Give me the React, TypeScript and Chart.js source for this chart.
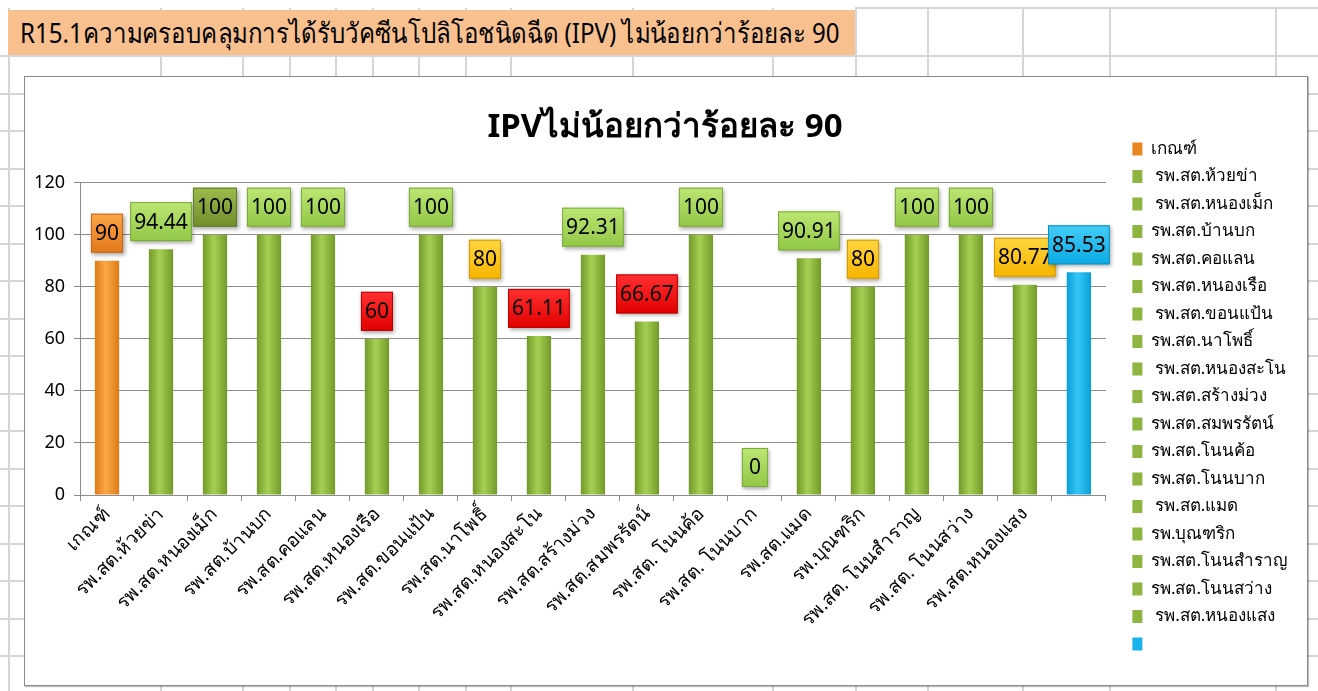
import React, { useEffect, useRef } from "react";
import { Chart, registerables } from "chart.js";

Chart.register(...registerables);

// ---------- data ----------
const sheetTitle =
  "R15.1ความครอบคลุมการได้รับวัคซีนโปลิโอชนิดฉีด (IPV) ไม่น้อยกว่าร้อยละ 90";
const chartTitle = "IPVไม่น้อยกว่าร้อยละ 90";

const categories = [
  "เกณฑ์",
  "รพ.สต.ห้วยข่า",
  "รพ.สต.หนองเม็ก",
  "รพ.สต.บ้านบก",
  "รพ.สต.คอแลน",
  "รพ.สต.หนองเรือ",
  "รพ.สต.ขอนแป้น",
  "รพ.สต.นาโพธิ์",
  "รพ.สต.หนองสะโน",
  "รพ.สต.สร้างม่วง",
  "รพ.สต.สมพรรัตน์",
  "รพ.สต. โนนค้อ",
  "รพ.สต. โนนบาก",
  "รพ.สต.แมด",
  "รพ.บุณฑริก",
  "รพ.สต. โนนสำราญ",
  "รพ.สต. โนนสว่าง",
  "รพ.สต.หนองแสง",
  "",
];

const legendNames = [
  "เกณฑ์",
  " รพ.สต.ห้วยข่า",
  " รพ.สต.หนองเม็ก",
  "รพ.สต.บ้านบก",
  "รพ.สต.คอแลน",
  "รพ.สต.หนองเรือ",
  " รพ.สต.ขอนแป้น",
  "รพ.สต.นาโพธิ์",
  " รพ.สต.หนองสะโน",
  "รพ.สต.สร้างม่วง",
  "รพ.สต.สมพรรัตน์",
  "รพ.สต.โนนค้อ",
  "รพ.สต.โนนบาก",
  " รพ.สต.แมด",
  "รพ.บุณฑริก",
  "รพ.สต.โนนสำราญ",
  "รพ.สต.โนนสว่าง",
  " รพ.สต.หนองแสง",
  "",
];

const values = [
  90, 94.44, 100, 100, 100, 60, 100, 80, 61.11, 92.31, 66.67, 100, 0, 90.91,
  80, 100, 100, 80.77, 85.53,
];

const yMin = 0;
const yMax = 120;
const yStep = 20;

// ---------- styles ----------
const FONT = "'Liberation Sans Narrow', 'Noto Sans', 'DejaVu Sans', sans-serif";
const darkLabelIndex = 2;

type Kind = "orange" | "green" | "blue";
const barKind = (i: number): Kind =>
  i === 0 ? "orange" : i === values.length - 1 ? "blue" : "green";

const barShades: Record<Kind, [string, string]> = {
  orange: ["#E07A18", "#FBA846"],
  green: ["#739A2A", "#A6D052"],
  blue: ["#0A9FD8", "#35C6F6"],
};
const legendSolid: Record<Kind, string> = {
  orange: "#E8861F",
  green: "#8DB53F",
  blue: "#19B3EC",
};

function labelPalette(i: number, v: number): [string, string, string] {
  const k = barKind(i);
  if (k === "orange") return ["#FBA547", "#E2781A", "#C7661A"];
  if (k === "blue") return ["#45CCF7", "#0AAAE3", "#0A8EC0"];
  if (i === darkLabelIndex) return ["#9BBA4C", "#6F8E2C", "#5E7A24"];
  if (v >= 90 || v === 0) return ["#BCE673", "#92C746", "#7CA93C"];
  if (v >= 80) return ["#FFD640", "#F6B400", "#D49A00"];
  return ["#FF3030", "#E10000", "#B80000"];
}

const labelBoxes = {
  id: "labelBoxes",
  afterDatasetsDraw(chart: any) {
    const ctx = chart.ctx as CanvasRenderingContext2D;
    const meta = chart.getDatasetMeta(0);
    ctx.save();
    ctx.font = `21px ${FONT}`;
    meta.data.forEach((bar: any, i: number) => {
      const v = values[i];
      const text = String(v);
      const tw = ctx.measureText(text).width;
      const w = Math.max(tw + 8, 26);
      const h = 39;
      const x = bar.x - w / 2;
      const y = bar.y - 8 - h;
      const pal = labelPalette(i, v);
      ctx.shadowColor = "rgba(0,0,0,0.35)";
      ctx.shadowBlur = 4;
      ctx.shadowOffsetX = 1.5;
      ctx.shadowOffsetY = 2;
      const g = ctx.createLinearGradient(0, y, 0, y + h);
      g.addColorStop(0, pal[0]);
      g.addColorStop(1, pal[1]);
      ctx.fillStyle = g;
      ctx.fillRect(x, y, w, h);
      ctx.shadowColor = "transparent";
      ctx.strokeStyle = pal[2];
      ctx.lineWidth = 1;
      ctx.strokeRect(x + 0.5, y + 0.5, w - 1, h - 1);
      ctx.fillStyle = "#000";
      ctx.textAlign = "center";
      ctx.textBaseline = "middle";
      ctx.fillText(text, bar.x, y + h / 2 + 1);
    });
    ctx.restore();
  },
};

function ChartCanvas() {
  const ref = useRef<HTMLCanvasElement | null>(null);
  useEffect(() => {
    if (!ref.current) return;
    const chart = new Chart(ref.current, {
      type: "bar",
      data: {
        labels: categories,
        datasets: [
          {
            data: values,
            backgroundColor: (c: any) => {
              const k = barKind(c.dataIndex);
              const chartObj = c.chart;
              const xs = chartObj.scales && chartObj.scales.x;
              if (!xs || !chartObj.chartArea) return barShades[k][1];
              const cx = xs.getPixelForValue(c.dataIndex);
              const half = 12;
              const g = chartObj.ctx.createLinearGradient(cx - half, 0, cx + half, 0);
              g.addColorStop(0, barShades[k][0]);
              g.addColorStop(0.45, barShades[k][1]);
              g.addColorStop(1, barShades[k][0]);
              return g;
            },
            borderWidth: 0,
            categoryPercentage: 1,
            barPercentage: 0.45,
          },
        ],
      },
      options: {
        responsive: false,
        animation: false,
        layout: { padding: { top: 31, right: 10, bottom: 0, left: 8 } },
        plugins: {
          title: {
            display: true,
            text: chartTitle,
            color: "#000",
            font: { family: FONT, size: 33, weight: "bold", lineHeight: 1.2 },
            padding: { top: 0, bottom: 35 },
          },
          legend: {
            display: true,
            position: "right",
            align: "center",
            labels: {
              color: "#000",
              font: { family: FONT, size: 17 },
              boxWidth: 10,
              boxHeight: 13,
              padding: 10.5,
              generateLabels: () =>
                legendNames.map((name, i) => ({
                  text: name,
                  fillStyle: legendSolid[barKind(i)],
                  strokeStyle: legendSolid[barKind(i)],
                  lineWidth: 0,
                  hidden: false,
                  index: i,
                  datasetIndex: 0,
                })),
            },
          },
          tooltip: { enabled: false },
        },
        scales: {
          x: {
            grid: {
              display: true,
              drawOnChartArea: false,
              drawTicks: true,
              tickLength: 6,
              color: "#8c8c8c",
              offset: true,
            },
            border: { display: true, color: "#8c8c8c" },
            ticks: {
              color: "#000",
              font: { family: FONT, size: 19 },
              maxRotation: 45,
              minRotation: 45,
              autoSkip: false,
              padding: 2,
            },
            afterFit: (s: any) => {
              s.height = 190;
            },
          },
          y: {
            min: yMin,
            max: yMax,
            ticks: {
              stepSize: yStep,
              color: "#000",
              font: { family: FONT, size: 18 },
              padding: 9,
            },
            grid: { color: "#8c8c8c", tickLength: 6 },
            border: { display: true, color: "#8c8c8c" },
            afterFit: (s: any) => {
              s.width = 47;
            },
          },
          y2: {
            position: "right",
            display: true,
            ticks: { display: false },
            grid: { display: false, drawTicks: false },
            border: { display: false },
            afterFit: (s: any) => {
              s.width = 16;
            },
          },
        },
      },
      plugins: [labelBoxes],
    } as any);
    return () => chart.destroy();
  }, []);
  return <canvas ref={ref} width={1282} height={608} style={{ display: "block" }} />;
}

const vLines = [8, 160, 242, 289, 335, 372, 418, 465, 510, 632, 772, 855, 927, 1022, 1109, 1275];
const hLines = [55, 92.5, 130, 167.5, 205, 242.5, 280, 317.5, 355, 392.5, 430, 467.5, 505, 542.5, 580, 617.5, 655];

export default function App() {
  return (
    <div
      style={{
        position: "absolute",
        left: 0,
        top: 0,
        width: 1318,
        height: 691,
        overflow: "hidden",
        background: "#fff",
      }}
    >
      {vLines.map((x) => (
        <div
          key={"v" + x}
          style={{ position: "absolute", left: x, top: 8, width: 2, height: 691, background: "#d6d6d6" }}
        />
      ))}
      <div style={{ position: "absolute", left: 855, top: 7, width: 463, height: 2, background: "#d6d6d6" }} />
      {hLines.map((y) => (
        <div
          key={"h" + y}
          style={{ position: "absolute", left: 0, top: y, width: 1318, height: 2, background: "#d6d6d6" }}
        />
      ))}
      <div
        style={{
          position: "absolute",
          left: 8,
          top: 10,
          width: 847,
          height: 45,
          background: "#F8C08F",
          fontFamily: FONT,
          fontSize: 28,
          color: "#000",
          lineHeight: "45px",
          paddingLeft: 12,
          boxSizing: "border-box",
          whiteSpace: "nowrap",
          overflow: "visible",
        }}
      >
        <span
          style={{
            display: "inline-block",
            transform: "scaleX(0.86)",
            transformOrigin: "0 50%",
          }}
        >
          {sheetTitle}
        </span>
      </div>
      <div
        style={{
          position: "absolute",
          left: 24,
          top: 76,
          width: 1284,
          height: 610,
          background: "#fff",
          border: "1px solid #8a8a8a",
          boxSizing: "border-box",
          boxShadow: "1px 1px 1px rgba(0,0,0,0.25)",
        }}
      >
        <ChartCanvas />
      </div>
    </div>
  );
}
